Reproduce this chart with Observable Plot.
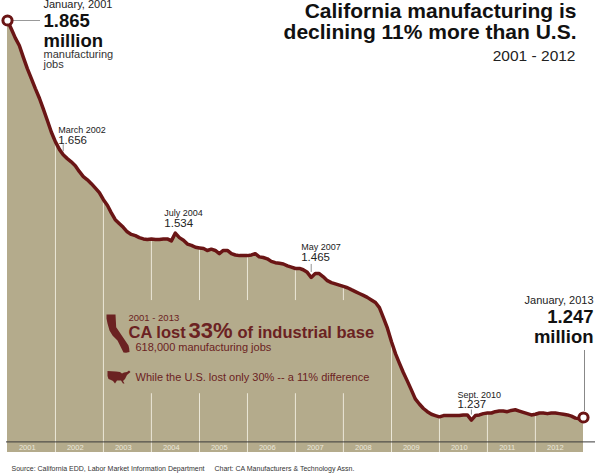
<!DOCTYPE html>
<html>
<head>
<meta charset="utf-8">
<script src="https://cdn.jsdelivr.net/npm/d3@7"></script>
<script src="https://cdn.jsdelivr.net/npm/@observablehq/plot@0.6"></script>
<style>
  body { margin: 0; background: #fff; }
  #chart svg { display: block; }
</style>
</head>
<body>
<div id="chart"></div>
<script>
// California manufacturing jobs (millions), monthly, Jan 2001 - Jan 2013
const firstMonth = "2001-01-01";
const jobs = [
  1.865, 1.851, 1.838, 1.826, 1.808, 1.790, 1.775, 1.759, 1.744, 1.727, 1.709, 1.691,
  1.676, 1.664, 1.656, 1.650, 1.645, 1.639, 1.630, 1.622, 1.617, 1.611, 1.604, 1.597,
  1.586, 1.577, 1.566, 1.555, 1.549, 1.543, 1.536, 1.532, 1.530, 1.527, 1.525, 1.524,
  1.525, 1.524, 1.524, 1.525, 1.525, 1.522, 1.534, 1.527, 1.523, 1.517, 1.515, 1.512,
  1.511, 1.510, 1.507, 1.509, 1.507, 1.502, 1.507, 1.507, 1.502, 1.500, 1.499, 1.499,
  1.499, 1.500, 1.502, 1.497, 1.496, 1.494, 1.490, 1.488, 1.487, 1.486, 1.483, 1.481,
  1.479, 1.479, 1.477, 1.473, 1.465, 1.471, 1.471, 1.466, 1.460, 1.457, 1.455, 1.453,
  1.451, 1.449, 1.446, 1.443, 1.440, 1.437, 1.434, 1.430, 1.426, 1.418, 1.402, 1.386,
  1.365, 1.346, 1.332, 1.317, 1.304, 1.290, 1.276, 1.268, 1.261, 1.256, 1.252, 1.250,
  1.248, 1.250, 1.250, 1.250, 1.250, 1.250, 1.251, 1.251, 1.243, 1.250, 1.251, 1.253,
  1.254, 1.254, 1.256, 1.257, 1.257, 1.256, 1.258, 1.259, 1.257, 1.255, 1.253, 1.251,
  1.252, 1.254, 1.254, 1.253, 1.254, 1.254, 1.253, 1.252, 1.251, 1.249, 1.246, 1.245,
  1.247
];
const yearLabels = ["2001", "2002", "2003", "2004", "2005", "2006",
                    "2007", "2008", "2009", "2010", "2011", "2012"];
const callouts = [
  {month: "2002-03-01", when: "March 2002", label: "1.656"},
  {month: "2004-07-01", when: "July 2004", label: "1.534"},
  {month: "2007-05-01", when: "May 2007", label: "1.465"},
  {month: "2010-09-01", when: "Sept. 2010", label: "1.237"}
];

const tan = "#b4ab8c", maroon = "#6a1515", ink = "#6b2222";
const font = "'Liberation Sans', Arial, Helvetica, sans-serif";

const start = new Date(firstMonth);
const data = jobs.map((v, i) => ({date: d3.utcMonth.offset(start, i), v}));
const byMonth = new Map(data.map(d => [+d.date, d.v]));
const end = data[data.length - 1].date;

const yTop = 1.865, yBottom = 1.1925, axisAt = 1.209;
const W = 595, H = 474, mL = 7, mR = 12, mT = 20, mB = 22;
const perPx = (yTop - yBottom) / (H - mT - mB);           // value per pixel
const atPx = px => new Date(+start + (px - mL) / (W - mL - mR) * (end - start));

// white year dividers, broken where the text block sits
const gapLow = 1.284, gapHigh = 1.429;
const dividers = d3.utcYear.range(new Date("2002-01-01"), end).map(date => ({
  date, v: byMonth.get(+date), gap: date.getUTCFullYear() >= 2004 && date.getUTCFullYear() <= 2008
}));

const years = yearLabels.map(y => ({label: y, date: new Date(Date.UTC(+y, 6, 1))}));

const calloutData = callouts.map(c => ({...c, date: new Date(c.month), v: byMonth.get(+new Date(c.month))}));

// little map icons
const caShape = {draw(ctx) {
  const p = [[-11.5,-19],[-2.5,-19],[-1.8,-6.3],[10.5,12],[11.2,15],[11.5,18.5],[8,19.2],[5.5,19],
             [3.5,15],[-0.5,7],[-5.5,2],[-8.5,-3],[-10.5,-10],[-11.5,-15]];
  ctx.moveTo(...p[0]); p.slice(1).forEach(q => ctx.lineTo(...q)); ctx.closePath();
}};
const usShape = {draw(ctx) {
  const p = [[-11.5,-6],[-3,-5.5],[1,-5],[3,-3.5],[5,-4.5],[8,-5],[10,-6.5],[11.5,-5],[8,-2],
             [7,0],[6,2],[4,4],[5.5,6.5],[4,6.5],[2,3.5],[-2,3.5],[-4,6.5],[-6,4],[-8,3],
             [-10.5,2],[-11.5,-1]];
  ctx.moveTo(...p[0]); p.slice(1).forEach(q => ctx.lineTo(...q)); ctx.closePath();
}};

function callout(c, {tx, dateDy, valueDy, tick}) {
  const one = calloutData.filter(d => d.when === c);
  const marks = [
    Plot.text(one, {x: "date", y: "v", text: "when", dx: tx, dy: dateDy, textAnchor: "start",
      lineAnchor: "bottom", fontSize: 9, fill: "#222"}),
    Plot.text(one, {x: "date", y: "v", text: "label", dx: tx, dy: valueDy, textAnchor: "start",
      lineAnchor: "bottom", fontSize: 11.5, fill: "#222"})
  ];
  if (tick) marks.push(Plot.ruleX(one, {x: "date", y1: d => d.v + tick[0] * perPx,
    y2: d => d.v + tick[1] * perPx, stroke: "#777", strokeWidth: 0.8}));
  return marks;
}

const chart = Plot.plot({
  width: W,
  height: H,
  marginLeft: mL,
  marginRight: mR,
  marginTop: mT,
  marginBottom: mB,
  style: {fontFamily: font, background: "#fff", overflow: "visible"},
  x: {type: "utc", domain: [start, end], axis: null},
  y: {domain: [yBottom, yTop], axis: null},
  marks: [
    Plot.areaY(data, {x: "date", y1: yBottom, y2: "v", fill: tan}),
    Plot.ruleX(dividers, {x: "date", y1: yBottom, y2: d => d.gap ? gapLow : d.v, stroke: "#ebe7d8", strokeWidth: 1}),
    Plot.ruleX(dividers.filter(d => d.gap), {x: "date", y1: gapHigh, y2: "v", stroke: "#ebe7d8", strokeWidth: 1}),
    Plot.ruleY([axisAt], {x1: atPx(6), x2: atPx(595), stroke: "#3a3a3a", strokeWidth: 1}),
    Plot.text(years, {x: "date", y: yBottom, text: "label", dx: -4, dy: -2.5, lineAnchor: "bottom",
      fontSize: 7.5, fill: "#ece8da"}),

    Plot.line(data, {x: "date", y: "v", stroke: maroon, strokeWidth: 3.5, strokeLinejoin: "round"}),

    // leaders for the end labels
    Plot.ruleY([yTop], {x1: atPx(13), x2: atPx(40), stroke: "#999", strokeWidth: 1}),
    Plot.ruleX([end], {y1: jobs[jobs.length - 1] + 6 * perPx, y2: jobs[jobs.length - 1] + 67 * perPx,
      dx: 1, stroke: "#888", strokeWidth: 1}),
    Plot.dot([data[0], data[data.length - 1]], {x: "date", y: "v", r: 4.6, fill: "#fff",
      stroke: maroon, strokeWidth: 3}),

    ...callout("March 2002", {tx: -5, dateDy: -22, valueDy: -11, tick: [3, 10]}),
    ...callout("July 2004", {tx: -11, dateDy: -17, valueDy: -6}),
    ...callout("May 2007", {tx: -10, dateDy: -27.5, valueDy: -16, tick: [5, 13]}),
    ...callout("Sept. 2010", {tx: -14, dateDy: -22.5, valueDy: -12, tick: [5, 10]}),

    // title
    Plot.text(["California manufacturing is\ndeclining 11% more than U.S."], {
      frameAnchor: "top-right", text: d => d, dx: -7, dy: 18.5, textAnchor: "end", lineAnchor: "bottom",
      lineHeight: 1.02, fontSize: 21, fontWeight: "bold", fill: "#111"}),
    Plot.text(["2001 - 2012"], {frameAnchor: "top-right", text: d => d, dx: -8, dy: 40,
      textAnchor: "end", lineAnchor: "bottom", fontSize: 15.5, fill: "#222"}),

    // start label
    Plot.text(["January, 2001"], {frameAnchor: "top-left", text: d => d, dx: 36, dy: -12.5,
      textAnchor: "start", lineAnchor: "bottom", fontSize: 11, fill: "#222"}),
    Plot.text(["1.865\nmillion"], {frameAnchor: "top-left", text: d => d, dx: 36, dy: 26,
      textAnchor: "start", lineAnchor: "bottom", lineHeight: 1.05, fontSize: 18.5, fontWeight: "bold", fill: "#111"}),
    Plot.text(["manufacturing\njobs"], {frameAnchor: "top-left", text: d => d, dx: 36, dy: 47.5,
      textAnchor: "start", lineAnchor: "bottom", lineHeight: 0.95, fontSize: 11, fill: "#333"}),

    // end label
    Plot.text(["January, 2013"], {frameAnchor: "top-right", text: d => d, dx: 10, dy: 283,
      textAnchor: "end", lineAnchor: "bottom", fontSize: 11, fill: "#222"}),
    Plot.text(["1.247\nmillion"], {frameAnchor: "top-right", text: d => d, dx: 10, dy: 322,
      textAnchor: "end", lineAnchor: "bottom", lineHeight: 1.05, fontSize: 18.5, fontWeight: "bold", fill: "#111"}),

    // CA vs U.S. text block
    Plot.dot([0], {frameAnchor: "top-left", dx: 110.5, dy: 313, symbol: caShape, fill: ink, stroke: "none"}),
    Plot.text(["2001 - 2013"], {frameAnchor: "top-left", text: d => d, dx: 121, dy: 300,
      textAnchor: "start", lineAnchor: "bottom", fontSize: 9.5, fill: ink}),
    Plot.text(["CA lost"], {frameAnchor: "top-left", text: d => d, dx: 121, dy: 317,
      textAnchor: "start", lineAnchor: "bottom", fontSize: 16.5, fontWeight: "bold", fill: ink}),
    Plot.text(["33%"], {frameAnchor: "top-left", text: d => d, dx: 181, dy: 317,
      textAnchor: "start", lineAnchor: "bottom", fontSize: 22, fontWeight: "bold", fill: ink}),
    Plot.text(["of industrial base"], {frameAnchor: "top-left", text: d => d, dx: 230, dy: 317,
      textAnchor: "start", lineAnchor: "bottom", fontSize: 16.5, fontWeight: "bold", fill: ink}),
    Plot.text(["618,000 manufacturing jobs"], {frameAnchor: "top-left", text: d => d, dx: 128, dy: 330,
      textAnchor: "start", lineAnchor: "bottom", fontSize: 11, fill: ink}),
    Plot.dot([0], {frameAnchor: "top-left", dx: 111.5, dy: 356.5, symbol: usShape, fill: ink, stroke: "none"}),
    Plot.text(["While the U.S. lost only 30% -- a 11% difference"], {frameAnchor: "top-left", text: d => d,
      dx: 128, dy: 360, textAnchor: "start", lineAnchor: "bottom", fontSize: 11, fill: ink}),

    // source line
    Plot.text(["Source: California EDD, Labor Market Information Department"], {frameAnchor: "bottom-left",
      text: d => d, dx: 4, dy: 18, textAnchor: "start", lineAnchor: "bottom", fontSize: 7, fill: "#333"}),
    Plot.text(["Chart: CA Manufacturers & Technology Assn."], {frameAnchor: "bottom-left",
      text: d => d, dx: 207, dy: 18, textAnchor: "start", lineAnchor: "bottom", fontSize: 7, fill: "#333"})
  ]
});

document.getElementById("chart").append(chart);
</script>
</body>
</html>
